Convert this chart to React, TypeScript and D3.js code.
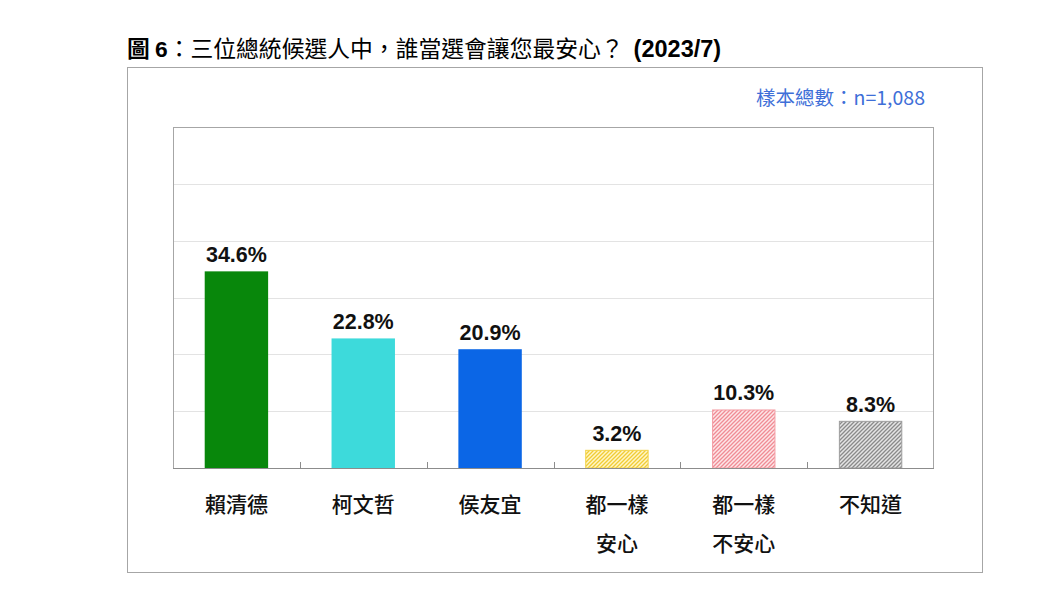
import React from "react";
import * as d3 from "d3";

const categories: string[][] = [["賴清德"], ["柯文哲"], ["侯友宜"], ["都一樣", "安心"], ["都一樣", "不安心"], ["不知道"]];
const values: number[] = [34.6, 22.8, 20.9, 3.2, 10.3, 8.3];
const yTicks: number[] = [10, 20, 30, 40, 50];
const titleMain = "三位總統候選人中，誰當選會讓您最安心？";
const sampleText = "樣本總數：n=1,088";

type Fill = { kind: "solid"; color: string } | { kind: "hatch"; stripe: string; bg: string; border: string };
const fills: Fill[] = [
  { kind: "solid", color: "#08870B" },
  { kind: "solid", color: "#3DDADB" },
  { kind: "solid", color: "#0B66E6" },
  { kind: "hatch", stripe: "#F1CC35", bg: "#FFF6C8", border: "#F2D249" },
  { kind: "hatch", stripe: "#F08C95", bg: "#FDE6E8", border: "#F4A0A7" },
  { kind: "hatch", stripe: "#8A8A8A", bg: "#E4E4E4", border: "#9E9E9E" },
];

const W = 1060, H = 596;
const plot = { left: 173, top: 127, right: 934, bottom: 468 };
const cjk = "'Noto Sans CJK TC', 'Noto Sans', sans-serif";
const latin = "'Liberation Sans', Arial, sans-serif";

export default function App() {
  const x = d3.scaleBand<number>().domain(d3.range(values.length)).range([plot.left, plot.right]).paddingInner(0.5).paddingOuter(0.25);
  const y = d3.scaleLinear().domain([0, 60]).range([plot.bottom, plot.top]);
  const step = x.step();
  const boundaries = d3.range(1, values.length).map((i) => plot.left + step * i);

  return (
    <div style={{ position: "absolute", left: 0, top: 0 }}>
      <svg width={W} height={H} style={{ display: "block", background: "#fff" }}>
        <defs>
          {fills.map((f, i) =>
            f.kind === "hatch" ? (
              <pattern key={i} id={`hatch${i}`} patternUnits="userSpaceOnUse" width={4} height={4}>
                <rect width={4} height={4} fill={f.bg} />
                <path d="M-1,1 l2,-2 M0,4 l4,-4 M3,5 l2,-2" stroke={f.stripe} strokeWidth={1.3} />
              </pattern>
            ) : null
          )}
        </defs>
        {/* title */}
        <text x={127} y={57} fontSize={22.8} fill="#000" fontFamily={cjk}>
          <tspan fontWeight={700}>圖 </tspan>
          <tspan fontWeight={700} fontFamily={latin}>6</tspan>
          <tspan>：{titleMain}</tspan>
          <tspan fontWeight={700} fontFamily={latin} fontSize={23.5} dx={10}>(2023/7)</tspan>
        </text>
        {/* outer frame */}
        <rect x={127.5} y={67.5} width={855} height={505} fill="none" stroke="#A6A6A6" strokeWidth={1} />
        <text x={925} y={105} textAnchor="end" fontSize={19.5} fill="#3E6FD8" fontFamily={cjk}>
          {sampleText}
        </text>
        {/* gridlines */}
        {yTicks.map((t) => (
          <line key={t} x1={plot.left} x2={plot.right} y1={Math.round(y(t)) + 0.5} y2={Math.round(y(t)) + 0.5} stroke="#E3E3E3" strokeWidth={1} />
        ))}
        {/* plot border */}
        <rect x={plot.left + 0.5} y={plot.top + 0.5} width={plot.right - plot.left - 1} height={plot.bottom - plot.top} fill="none" stroke="#A6A6A6" strokeWidth={1} />
        {/* bars */}
        {values.map((v, i) => {
          const f = fills[i];
          const bx = x(i)!;
          const bw = x.bandwidth();
          const top = y(v);
          return (
            <g key={i}>
              {f.kind === "solid" ? (
                <rect x={bx} y={top} width={bw} height={plot.bottom - top} fill={f.color} />
              ) : (
                <rect x={bx + 0.5} y={top + 0.5} width={bw - 1} height={plot.bottom - top - 0.5} fill={`url(#hatch${i})`} stroke={f.border} strokeWidth={1} />
              )}
              <text x={bx + bw / 2} y={top - 9} textAnchor="middle" fontSize={21.5} fontWeight={700} fontFamily={latin} fill="#111">
                {d3.format(".1f")(v)}%
              </text>
              {categories[i].map((line, j) => (
                <text key={j} x={bx + bw / 2} y={512 + j * 39} textAnchor="middle" fontSize={21} fontWeight={500} fontFamily={cjk} fill="#111">
                  {line}
                </text>
              ))}
            </g>
          );
        })}
        {/* axis */}
        <line x1={plot.left} x2={plot.right} y1={plot.bottom + 0.5} y2={plot.bottom + 0.5} stroke="#8C8C8C" strokeWidth={1} />
        {boundaries.map((bx, i) => (
          <line key={i} x1={Math.round(bx) + 0.5} x2={Math.round(bx) + 0.5} y1={plot.bottom} y2={plot.bottom - 6} stroke="#8C8C8C" strokeWidth={1} />
        ))}
      </svg>
    </div>
  );
}
